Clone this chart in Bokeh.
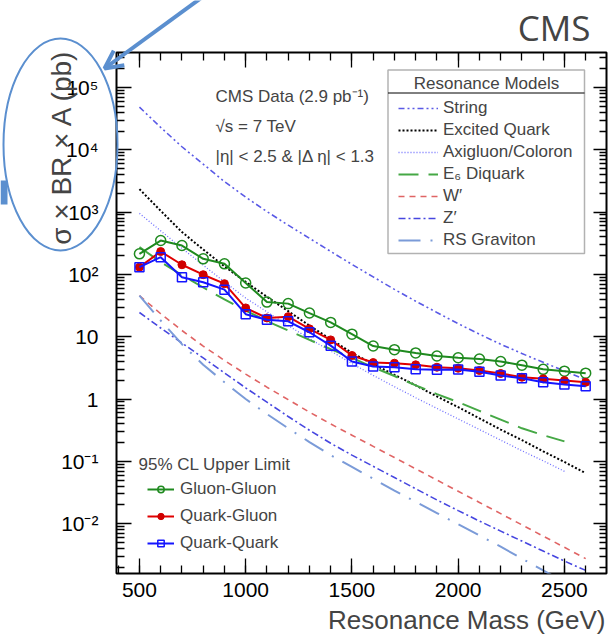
import numpy as np
from bokeh.plotting import figure
from bokeh.layouts import column
from bokeh.models import (Range1d, FixedTicker, LinearAxis, LogAxis, Label, Legend, LegendItem,
                          BoxAnnotation, Arrow, OpenHead, CustomJSTickFormatter, Title)
from bokeh.embed import file_html
from bokeh.resources import INLINE

# ---------------- data ----------------
mass = [500, 600, 700, 800, 900, 1000, 1100, 1200, 1300, 1400, 1500,
        1600, 1700, 1800, 1900, 2000, 2100, 2200, 2300, 2400, 2500, 2600]
mass_short = mass[:-1]  # curves that stop at 2500 GeV

gluon_gluon = [214, 350, 291, 178, 148, 73, 36, 34, 24, 17, 11, 7.1, 6.2, 5.5, 4.9, 4.6,
               4.4, 4.0, 3.5, 3.0, 2.8, 2.6]
quark_gluon = [131, 233, 143, 99, 71, 29, 20, 21, 13.4, 8.9, 5.0, 3.85, 3.76, 3.54, 3.24,
               3.12, 2.87, 2.57, 2.24, 2.11, 1.98, 1.86]
quark_quark = [131, 189, 90, 75, 57, 23, 18.7, 17.7, 11.8, 7.2, 4.0, 3.33, 3.24, 3.01, 2.94,
               2.98, 2.74, 2.38, 2.16, 1.86, 1.71, 1.60]

string_model = [48400, 22900, 11200, 5890, 3090, 1740, 1020, 617, 380, 234, 145, 91.2, 57.5,
                37.2, 24.5, 16.2, 11.0, 7.59, 5.37, 3.89, 2.82, 2.04]
excited_quark = [2340, 1050, 479, 251, 135, 75.9, 43.7, 25.7, 15.1, 9.12, 5.50, 3.63, 2.45,
                 1.66, 1.10, 0.741, 0.490, 0.324, 0.219, 0.145, 0.0977, 0.0646]
axigluon = [955, 501, 263, 141, 75.9, 41.7, 25.1, 15.1, 9.33, 5.89, 3.72, 2.40, 1.58, 1.05,
            0.708, 0.479, 0.324, 0.219, 0.148, 0.102, 0.0692]
e6_diquark = [275, 158, 97.7, 61.7, 39.8, 26.3, 17.8, 12.6, 8.91, 6.31, 4.57, 3.24, 2.34,
              1.66, 1.20, 0.891, 0.646, 0.468, 0.339, 0.263, 0.209]
w_prime = [45.7, 23.4, 12.6, 7.08, 4.17, 2.51, 1.55, 0.977, 0.617, 0.398, 0.263, 0.174,
           0.115, 0.0759, 0.0501, 0.0331, 0.0219, 0.0145, 0.00955, 0.00631, 0.00417, 0.00275]
z_prime = [24.5, 13.8, 7.94, 4.57, 2.63, 1.51, 0.891, 0.525, 0.316, 0.195, 0.126, 0.0832,
           0.0550, 0.0363, 0.0240, 0.0162, 0.0110, 0.00759, 0.00525, 0.00363, 0.00251, 0.00178]
rs_graviton = [45.7, 18.2, 7.59, 3.55, 1.86, 1.00, 0.575, 0.339, 0.204, 0.126, 0.0813,
               0.0525, 0.0339, 0.0224, 0.0148, 0.00977, 0.00646, 0.00427, 0.00275, 0.00178,
               0.00115, 0.000741]

x_tick_values = [500, 1000, 1500, 2000, 2500]
x_tick_labels = ["500", "1000", "1500", "2000", "2500"]
y_tick_values = [1e-2, 1e-1, 1, 10, 100, 1e3, 1e4, 1e5]
y_tick_labels = ["10⁻²", "10⁻¹", "1", "10", "10²", "10³", "10⁴", "10⁵"]

model_names = ["String", "Excited Quark", "Axigluon/Coloron", "E₆ Diquark", "W′", "Z′", "RS Graviton"]
limit_names = ["Gluon-Gluon", "Quark-Gluon", "Quark-Quark"]

# ---------------- figure ----------------
FONT = "Liberation Sans"
W, H = 616, 643
p = figure(width=W, height=H, y_axis_type="log",
           x_range=Range1d(392, 2698), y_range=Range1d(10 ** -2.80, 10 ** 5.562),
           output_backend="svg", toolbar_location=None,
           min_border_left=116, min_border_right=10, min_border_top=52, min_border_bottom=70)
p.xgrid.visible = False
p.ygrid.visible = False
p.outline_line_color = "black"
p.outline_line_width = 2
p.background_fill_color = "white"
p.border_fill_color = "white"

x_minor = list(range(400, 2701, 100))
y_minor = [k * 10.0 ** n for n in range(-3, 6) for k in range(2, 10)]
xt = FixedTicker(ticks=x_tick_values, minor_ticks=x_minor)
yt = FixedTicker(ticks=y_tick_values, minor_ticks=y_minor)


def style_axis(ax, major_len, minor_len):
    ax.axis_line_color = None
    ax.major_tick_in = major_len
    ax.major_tick_out = 0
    ax.minor_tick_in = minor_len
    ax.minor_tick_out = 0
    ax.major_tick_line_color = "black"
    ax.minor_tick_line_color = "black"
    ax.major_tick_line_width = 1.3
    ax.minor_tick_line_width = 1.3
    ax.major_label_text_font = FONT
    ax.major_label_text_color = "black"


xa = p.xaxis[0]
xa.ticker = xt
style_axis(xa, 15, 8)
xa.formatter = CustomJSTickFormatter(args=dict(vals=x_tick_values, labs=x_tick_labels),
                                     code="const i = vals.indexOf(tick); return i >= 0 ? labs[i] : ''")
xa.major_label_text_font_size = "21px"
xa.major_label_standoff = 9

ya = p.yaxis[0]
ya.ticker = yt
style_axis(ya, 15, 8)
ya.formatter = CustomJSTickFormatter(
    args=dict(vals=y_tick_values, labs=y_tick_labels),
    code="for (let i = 0; i < vals.length; i++) { if (Math.abs(Math.log10(vals[i]) - Math.log10(tick)) < 1e-6) return labs[i]; } return ''")
ya.major_label_text_font_size = "21px"
ya.major_label_standoff = 18

top_ax = LinearAxis(ticker=xt, formatter=CustomJSTickFormatter(code="return ''"))
style_axis(top_ax, 15, 8)
top_ax.major_label_text_font_size = "0px"
top_ax.major_label_standoff = 0
p.add_layout(top_ax, "above")

right_ax = LogAxis(ticker=yt, formatter=CustomJSTickFormatter(code="return ''"))
style_axis(right_ax, 13, 7)
right_ax.major_label_text_font_size = "0px"
right_ax.major_label_standoff = 0
p.add_layout(right_ax, "right")

p.add_layout(Title(text="Resonance Mass (GeV)", align="right", offset=1, standoff=6,
                   text_font=FONT, text_font_size="26px", text_font_style="normal"), "below")

# ---------------- theory curves ----------------
r_string = p.line(mass, string_model, line_color="#5a5ae6", line_width=1.6, line_dash="6 3 2 3 2 3")
r_exq = p.line(mass, excited_quark, line_color="black", line_width=2, line_dash="2 2")
r_axi = p.line(mass_short, axigluon, line_color="#6f6fff", line_width=1.3, line_dash="1 2")
r_e6 = p.line(mass_short, e6_diquark, line_color="#45a845", line_width=2, line_dash="20 10")
r_w = p.line(mass, w_prime, line_color="#e06464", line_width=1.6, line_dash="6 5")
r_z = p.line(mass, z_prime, line_color="#4646e0", line_width=1.6, line_dash="7 3 2 3")
r_rs = p.line(mass, rs_graviton, line_color="#7b9bd8", line_width=2, line_dash="22 10 2 10")

# ---------------- measured limits ----------------
gg_l = p.line(mass, gluon_gluon, line_color="#1f8a1f", line_width=2)
gg_m = p.scatter(mass, gluon_gluon, marker="circle", size=10, fill_color=None,
                 line_color="#1f8a1f", line_width=1.5)
qg_l = p.line(mass, quark_gluon, line_color="#e00000", line_width=2)
qg_m = p.scatter(mass, quark_gluon, marker="circle", size=8, fill_color="#d00000",
                 line_color="#d00000")
qq_l = p.line(mass, quark_quark, line_color="#1515ff", line_width=2)
qq_m = p.scatter(mass, quark_quark, marker="square", size=9, fill_color=None,
                 line_color="#1515ff", line_width=1.5)

# ---------------- resonance models legend ----------------
p.add_layout(BoxAnnotation(left=271.5, right=468, bottom=320, top=503.5,
                           left_units="screen", right_units="screen",
                           bottom_units="screen", top_units="screen",
                           fill_color="white", fill_alpha=1, line_color="black", line_width=1.5,
                           level="annotation"))
p.add_layout(Arrow(x_start=271.5, y_start=480.5, x_end=468, y_end=480.5,
                   start_units="screen", end_units="screen", end=None,
                   line_color="black", line_width=1))
p.add_layout(Label(x=370, y=490, x_units="screen", y_units="screen", text="Resonance Models",
                   text_align="center", text_baseline="alphabetic",
                   text_font=FONT, text_font_size="17px"))
model_renderers = [r_string, r_exq, r_axi, r_e6, r_w, r_z, r_rs]
leg1 = Legend(items=[LegendItem(label=n, renderers=[r]) for n, r in zip(model_names, model_renderers)],
              location=(282, 322), padding=0, border_line_color=None, background_fill_alpha=0,
              glyph_width=40, glyph_height=14, label_standoff=5, label_height=22, spacing=0,
              label_text_font=FONT, label_text_font_size="17px")
p.add_layout(leg1)

# ---------------- limits legend ----------------
p.add_layout(Label(x=22, y=109, x_units="screen", y_units="screen", text="95% CL Upper Limit",
                   text_align="left", text_baseline="alphabetic",
                   text_font=FONT, text_font_size="17px"))
leg2 = Legend(items=[LegendItem(label=limit_names[0], renderers=[gg_l, gg_m]),
                     LegendItem(label=limit_names[1], renderers=[qg_l, qg_m]),
                     LegendItem(label=limit_names[2], renderers=[qq_l, qq_m])],
              location=(31, 20), padding=0, border_line_color=None, background_fill_alpha=0,
              glyph_width=27, glyph_height=16, label_standoff=6, label_height=20, spacing=7,
              label_text_font=FONT, label_text_font_size="17px")
p.add_layout(leg2)

# ---------------- texts in the frame ----------------
for txt, yy in [("CMS Data (2.9 pb⁻¹)", 477), ("√s = 7 TeV", 447), ("|η| < 2.5 & |Δ η| < 1.3", 417)]:
    p.add_layout(Label(x=99, y=yy, x_units="screen", y_units="screen", text=txt,
                       text_align="left", text_baseline="alphabetic",
                       text_font=FONT, text_font_size="17px"))

# ---------------- transparent overlay over the whole chart (slide call-outs, outer texts) ----
ov = figure(width=W, height=H, x_range=Range1d(0, W), y_range=Range1d(H, 0),
            x_axis_type=None, y_axis_type=None, output_backend="svg", toolbar_location=None,
            min_border=0, margin=(-H, 0, 0, 0))
ov.frame_align = False
p.frame_align = False
ov.grid.visible = False
ov.outline_line_color = None
ov.background_fill_alpha = 0
ov.border_fill_alpha = 0

ov.add_layout(Label(x=61, y=48, text="σ × BR × A (pb)", angle=np.pi / 2,
                    text_align="right", text_baseline="middle",
                    text_font=FONT, text_font_size="28px"))
ov.add_layout(Label(x=590, y=27, text="CMS", text_align="right", text_baseline="alphabetic",
                    text_font="Open Sans", text_font_size="35px"))

CALL = "#5b8fcf"
ov.ellipse(x=[60], y=[144], width=[114], height=[212], fill_alpha=0, line_color=CALL, line_width=2)
ov.quad(left=[0], right=[7], top=[180], bottom=[204], fill_color=CALL, line_color=None)
ov.add_layout(Arrow(x_start=204, y_start=-5, x_end=104, y_end=68,
                    end=OpenHead(size=18, line_width=4, line_color=CALL),
                    line_color=CALL, line_width=4))

layout = column(p, ov, spacing=0)
open("out.html", "w").write(file_html(layout, INLINE))
